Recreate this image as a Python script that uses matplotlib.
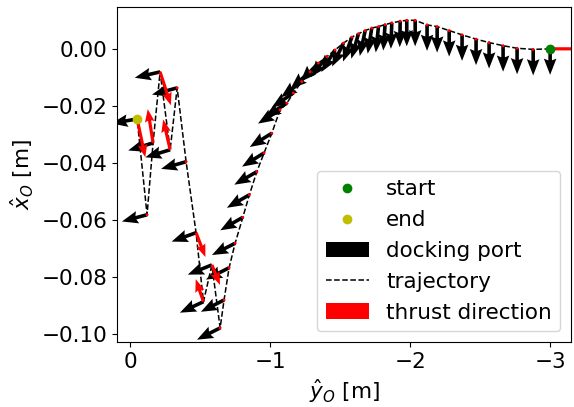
import numpy as np
import matplotlib
matplotlib.use("Agg")
import matplotlib.pyplot as plt

# ===============================
# Dados
# ===============================
# trajetoria: y_O (eixo horizontal) e x_O (eixo vertical), do inicio ao fim
traj_y = [-3.000, -2.879, -2.764, -2.664, -2.564, -2.471, -2.371, -2.279, -2.193, -2.121,
          -2.036, -1.976, -1.929, -1.869, -1.821, -1.774, -1.726, -1.679, -1.631, -1.584,
          -1.524, -1.464, -1.405, -1.345, -1.286, -1.226, -1.166, -1.119,
          -1.071, -1.012, -0.957, -0.905, -0.852, -0.805, -0.750, -0.707, -0.671, -0.643,
          -0.584, -0.524, -0.471, -0.400, -0.336, -0.286, -0.214, -0.164, -0.121, -0.050]
traj_x = [0.0000, -0.0002, 0.0002, 0.0011, 0.0022, 0.0034, 0.0049, 0.0064, 0.0078, 0.0084,
          0.0100, 0.0100, 0.0097, 0.0091, 0.0085, 0.0078, 0.0073, 0.0064, 0.0053, 0.0041,
          0.0020, -0.0004, -0.0027, -0.0050, -0.0080, -0.0115, -0.0155, -0.0191,
          -0.0214, -0.0296, -0.0365, -0.0431, -0.0512, -0.0591, -0.0682, -0.0768, -0.0881, -0.0979,
          -0.0758, -0.0887, -0.0645, -0.0396, -0.0137, -0.0354, -0.0081, -0.0330, -0.0582, -0.0246]

# direcao do docking port (graus)
dock_ang = [-90, -90, -90, -90, -90, -90, -90, -90, -90, -90,
            -90, -90, -91, -92, -94, -96, -99, -102, -106, -110,
            -116, -122, -128, -134, -139, -143, -146, -148,
            -148, -148, -148, -150, -150, -150, -153, -153, -153, -153,
            -158, -155, -160, -164, -165, -163, -167, -163, -165, -170]

# empuxo: direcao (graus) e magnitude normalizada
thrust_ang = [0] * 38 + [-68, 109, -69, 0, 0, 103, -72, 99, 0, -78]
thrust_mag = [1.0] + [0.0] * 37 + [0.48, 0.53, 0.58, 0.0, 0.0, 0.69, 0.78, 0.76, 0.0, 0.87]

# ===============================
# Grafico
# ===============================
plt.rcParams["font.size"] = 15.5

fig = plt.figure(figsize=(5.74, 4.07), dpi=100)
ax = fig.add_axes([0.204, 0.160, 0.791, 0.823])

du = np.cos(np.radians(dock_ang))
dv = np.sin(np.radians(dock_ang))
tu = np.array(thrust_mag) * np.cos(np.radians(thrust_ang))
tv = np.array(thrust_mag) * np.sin(np.radians(thrust_ang))

ax.plot(traj_y[0], traj_x[0], "o", color="g", ms=6, label="start", zorder=3)
ax.plot(traj_y[-1], traj_x[-1], "o", color="y", ms=6, label="end", zorder=3)
ax.quiver(traj_y, traj_x, du, dv, color="k", angles="uv", scale_units="inches", scale=1 / 0.26,
          units="dots", width=3.6, headwidth=3.5, headlength=4.5, headaxislength=4.0,
          label="docking port")
ax.plot(traj_y, traj_x, "--", color="k", lw=1.1, label="trajectory")
ax.quiver(traj_y, traj_x, tu, tv, color="r", angles="uv", scale_units="inches", scale=1 / 0.45,
          units="dots", width=3.2, headwidth=3.0, headlength=4.0, headaxislength=3.6,
          label="thrust direction", zorder=2.5)

ax.set_xlim(0.093, -3.15)
ax.set_ylim(-0.1028, 0.0147)
ax.set_xticks([0, -1, -2, -3])
ax.set_yticks([0.0, -0.02, -0.04, -0.06, -0.08, -0.10])
ax.set_xlabel(r"$\hat{y}_O$ [m]")
ax.set_ylabel(r"$\hat{x}_O$ [m]")
ax.legend(loc="lower right")

plt.savefig("out.png", dpi=100)
plt.close()
